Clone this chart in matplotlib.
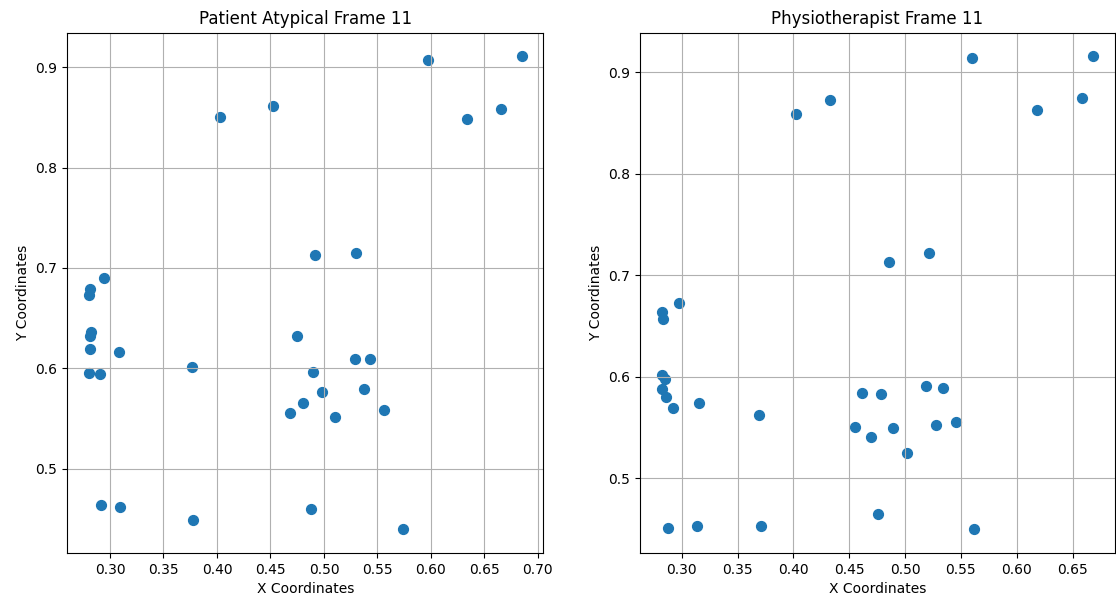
import matplotlib
matplotlib.use("Agg")
import matplotlib.pyplot as plt

# Patient Atypical, frame 11 (33 landmarks)
patient_x = [0.4028, 0.4526, 0.5975, 0.6334, 0.6651, 0.6850, 0.4916, 0.5296,
             0.2947, 0.2810, 0.2800, 0.2822, 0.2810, 0.2810, 0.3081, 0.3769,
             0.2807, 0.2904, 0.4745, 0.4894, 0.4981, 0.4804, 0.4682, 0.5106,
             0.5287, 0.5430, 0.5371, 0.5560, 0.2913, 0.3093, 0.3776, 0.4876,
             0.5735]
patient_y = [0.8502, 0.8612, 0.9070, 0.8480, 0.8580, 0.9107, 0.7125, 0.7149,
             0.6900, 0.6794, 0.6730, 0.6363, 0.6320, 0.6190, 0.6160, 0.6018,
             0.5957, 0.5945, 0.6320, 0.5968, 0.5766, 0.5657, 0.5557, 0.5520,
             0.6094, 0.6094, 0.5789, 0.5587, 0.4638, 0.4615, 0.4489, 0.4595,
             0.4396]

# Physiotherapist, frame 11
physio_x = [0.4020, 0.4332, 0.5600, 0.6183, 0.6588, 0.6686, 0.4859, 0.5219,
            0.2826, 0.2835, 0.2975, 0.2826, 0.2846, 0.2820, 0.2855, 0.2924,
            0.3156, 0.3692, 0.2877, 0.3136, 0.3710, 0.4552, 0.4614, 0.4788,
            0.5189, 0.5341, 0.4695, 0.4888, 0.5278, 0.5460, 0.5016, 0.4757,
            0.5620]
physio_y = [0.8591, 0.8730, 0.9143, 0.8627, 0.8752, 0.9157, 0.7131, 0.7220,
            0.6637, 0.6573, 0.6732, 0.6016, 0.5974, 0.5880, 0.5804, 0.5693,
            0.5739, 0.5625, 0.4514, 0.4533, 0.4533, 0.5507, 0.5837, 0.5827,
            0.5906, 0.5892, 0.5406, 0.5494, 0.5526, 0.5553, 0.5249, 0.4644,
            0.4497]

fig = plt.figure(figsize=(11.16, 6.07), dpi=100)
ax1 = fig.add_axes([0.060, 0.089, 0.427, 0.857])
ax2 = fig.add_axes([0.5735, 0.089, 0.4255, 0.857])

for ax, xs, ys, title in [
    (ax1, patient_x, patient_y, "Patient Atypical Frame 11"),
    (ax2, physio_x, physio_y, "Physiotherapist Frame 11"),
]:
    ax.scatter(xs, ys, s=50, color="#1f77b4")
    ax.set_title(title)
    ax.set_xlabel("X Coordinates")
    ax.set_ylabel("Y Coordinates")
    ax.grid(True)

fig.savefig("out.png", dpi=100)
